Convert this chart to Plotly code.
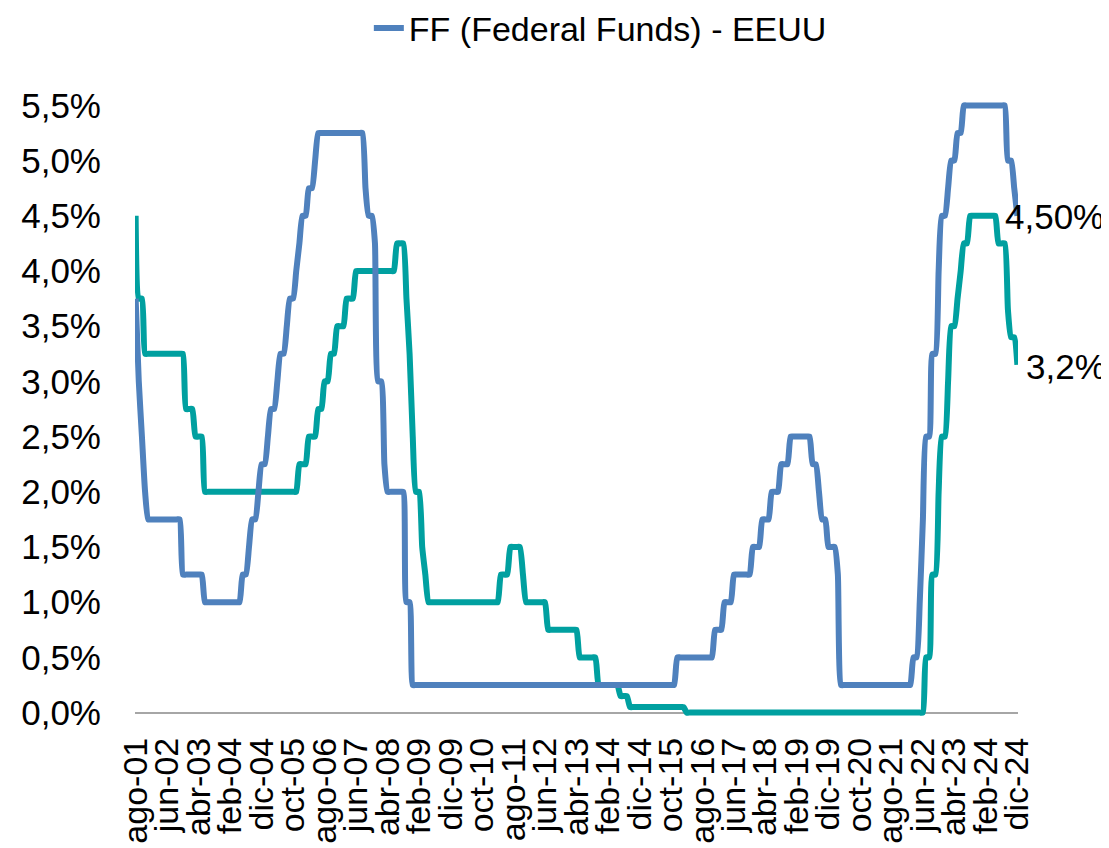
import plotly.graph_objects as go

# Monthly data, ago-2001 .. dic-2024 (281 months)
month_abbr = ["ene", "feb", "mar", "abr", "may", "jun", "jul", "ago", "sep", "oct", "nov", "dic"]

ff_usa = [
    3.75, 3.00, 2.50, 2.00, 1.75,                                          # 2001 ago-dic
    1.75, 1.75, 1.75, 1.75, 1.75, 1.75, 1.75, 1.75, 1.75, 1.75, 1.25, 1.25,  # 2002
    1.25, 1.25, 1.25, 1.25, 1.25, 1.00, 1.00, 1.00, 1.00, 1.00, 1.00, 1.00,  # 2003
    1.00, 1.00, 1.00, 1.00, 1.00, 1.25, 1.25, 1.50, 1.75, 1.75, 2.00, 2.25,  # 2004
    2.25, 2.50, 2.75, 2.75, 3.00, 3.25, 3.25, 3.50, 3.75, 3.75, 4.00, 4.25,  # 2005
    4.50, 4.50, 4.75, 4.75, 5.00, 5.25, 5.25, 5.25, 5.25, 5.25, 5.25, 5.25,  # 2006
    5.25, 5.25, 5.25, 5.25, 5.25, 5.25, 5.25, 5.25, 4.75, 4.50, 4.50, 4.25,  # 2007
    3.00, 3.00, 2.25, 2.00, 2.00, 2.00, 2.00, 2.00, 2.00, 1.00, 1.00, 0.25,  # 2008
    0.25, 0.25, 0.25, 0.25, 0.25, 0.25, 0.25, 0.25, 0.25, 0.25, 0.25, 0.25,  # 2009
    0.25, 0.25, 0.25, 0.25, 0.25, 0.25, 0.25, 0.25, 0.25, 0.25, 0.25, 0.25,  # 2010
    0.25, 0.25, 0.25, 0.25, 0.25, 0.25, 0.25, 0.25, 0.25, 0.25, 0.25, 0.25,  # 2011
    0.25, 0.25, 0.25, 0.25, 0.25, 0.25, 0.25, 0.25, 0.25, 0.25, 0.25, 0.25,  # 2012
    0.25, 0.25, 0.25, 0.25, 0.25, 0.25, 0.25, 0.25, 0.25, 0.25, 0.25, 0.25,  # 2013
    0.25, 0.25, 0.25, 0.25, 0.25, 0.25, 0.25, 0.25, 0.25, 0.25, 0.25, 0.25,  # 2014
    0.25, 0.25, 0.25, 0.25, 0.25, 0.25, 0.25, 0.25, 0.25, 0.25, 0.25, 0.50,  # 2015
    0.50, 0.50, 0.50, 0.50, 0.50, 0.50, 0.50, 0.50, 0.50, 0.50, 0.50, 0.75,  # 2016
    0.75, 0.75, 1.00, 1.00, 1.00, 1.25, 1.25, 1.25, 1.25, 1.25, 1.25, 1.50,  # 2017
    1.50, 1.50, 1.75, 1.75, 1.75, 2.00, 2.00, 2.00, 2.25, 2.25, 2.25, 2.50,  # 2018
    2.50, 2.50, 2.50, 2.50, 2.50, 2.50, 2.25, 2.25, 2.00, 1.75, 1.75, 1.50,  # 2019
    1.50, 1.50, 1.25, 0.25, 0.25, 0.25, 0.25, 0.25, 0.25, 0.25, 0.25, 0.25,  # 2020
    0.25, 0.25, 0.25, 0.25, 0.25, 0.25, 0.25, 0.25, 0.25, 0.25, 0.25, 0.25,  # 2021
    0.25, 0.25, 0.50, 0.50, 1.00, 1.75, 2.50, 2.50, 3.25, 3.25, 4.00, 4.50,  # 2022
    4.50, 4.75, 5.00, 5.00, 5.25, 5.25, 5.50, 5.50, 5.50, 5.50, 5.50, 5.50,  # 2023
    5.50, 5.50, 5.50, 5.50, 5.50, 5.50, 5.50, 5.50, 5.00, 5.00, 4.75, 4.50,  # 2024
]

ecb_refi = [
    4.50, 3.75, 3.75, 3.25, 3.25,                                          # 2001 ago-dic
    3.25, 3.25, 3.25, 3.25, 3.25, 3.25, 3.25, 3.25, 3.25, 3.25, 3.25, 2.75,  # 2002
    2.75, 2.75, 2.50, 2.50, 2.50, 2.00, 2.00, 2.00, 2.00, 2.00, 2.00, 2.00,  # 2003
    2.00, 2.00, 2.00, 2.00, 2.00, 2.00, 2.00, 2.00, 2.00, 2.00, 2.00, 2.00,  # 2004
    2.00, 2.00, 2.00, 2.00, 2.00, 2.00, 2.00, 2.00, 2.00, 2.00, 2.00, 2.25,  # 2005
    2.25, 2.25, 2.50, 2.50, 2.50, 2.75, 2.75, 3.00, 3.00, 3.25, 3.25, 3.50,  # 2006
    3.50, 3.50, 3.75, 3.75, 3.75, 4.00, 4.00, 4.00, 4.00, 4.00, 4.00, 4.00,  # 2007
    4.00, 4.00, 4.00, 4.00, 4.00, 4.00, 4.25, 4.25, 4.25, 3.75, 3.25, 2.50,  # 2008
    2.00, 2.00, 1.50, 1.25, 1.00, 1.00, 1.00, 1.00, 1.00, 1.00, 1.00, 1.00,  # 2009
    1.00, 1.00, 1.00, 1.00, 1.00, 1.00, 1.00, 1.00, 1.00, 1.00, 1.00, 1.00,  # 2010
    1.00, 1.00, 1.00, 1.25, 1.25, 1.25, 1.50, 1.50, 1.50, 1.50, 1.25, 1.00,  # 2011
    1.00, 1.00, 1.00, 1.00, 1.00, 1.00, 0.75, 0.75, 0.75, 0.75, 0.75, 0.75,  # 2012
    0.75, 0.75, 0.75, 0.75, 0.50, 0.50, 0.50, 0.50, 0.50, 0.50, 0.25, 0.25,  # 2013
    0.25, 0.25, 0.25, 0.25, 0.25, 0.15, 0.15, 0.15, 0.05, 0.05, 0.05, 0.05,  # 2014
    0.05, 0.05, 0.05, 0.05, 0.05, 0.05, 0.05, 0.05, 0.05, 0.05, 0.05, 0.05,  # 2015
    0.05, 0.05, 0.00, 0.00, 0.00, 0.00, 0.00, 0.00, 0.00, 0.00, 0.00, 0.00,  # 2016
    0.00, 0.00, 0.00, 0.00, 0.00, 0.00, 0.00, 0.00, 0.00, 0.00, 0.00, 0.00,  # 2017
    0.00, 0.00, 0.00, 0.00, 0.00, 0.00, 0.00, 0.00, 0.00, 0.00, 0.00, 0.00,  # 2018
    0.00, 0.00, 0.00, 0.00, 0.00, 0.00, 0.00, 0.00, 0.00, 0.00, 0.00, 0.00,  # 2019
    0.00, 0.00, 0.00, 0.00, 0.00, 0.00, 0.00, 0.00, 0.00, 0.00, 0.00, 0.00,  # 2020
    0.00, 0.00, 0.00, 0.00, 0.00, 0.00, 0.00, 0.00, 0.00, 0.00, 0.00, 0.00,  # 2021
    0.00, 0.00, 0.00, 0.00, 0.00, 0.00, 0.50, 0.50, 1.25, 1.25, 2.00, 2.50,  # 2022
    2.50, 3.00, 3.50, 3.50, 3.75, 4.00, 4.25, 4.25, 4.50, 4.50, 4.50, 4.50,  # 2023
    4.50, 4.50, 4.50, 4.50, 4.50, 4.25, 4.25, 4.25, 3.65, 3.40, 3.40, 3.15,  # 2024
]

# month labels "ago-01" ... "dic-24"
months = []
for yr in range(2001, 2025):
    for m in range(12):
        if yr == 2001 and m < 7:
            continue
        months.append(f"{month_abbr[m]}-{yr % 100:02d}")

tick_step = 10
y_ticks = [0.0, 0.5, 1.0, 1.5, 2.0, 2.5, 3.0, 3.5, 4.0, 4.5, 5.0, 5.5]
y_ticktext = [f"{v:.1f}%".replace(".", ",") for v in y_ticks]
end_labels = ["4,50%", "3,2%"]

series_names = ["FF (Federal Funds) - EEUU", "Tasa BCE"]
colors = ["#4F81BD", "#00A0A0"]

FONT = "Liberation Sans, Arial, sans-serif"

x_idx = list(range(len(months)))

fig = go.Figure()
fig.add_trace(go.Scatter(
    x=x_idx, y=ecb_refi, mode="lines", name=series_names[1], showlegend=False,
    line=dict(color=colors[1], width=6, shape="spline", smoothing=0.5),
    hoverinfo="skip",
))
fig.add_trace(go.Scatter(
    x=x_idx, y=ff_usa, mode="lines", name=series_names[0], showlegend=True,
    line=dict(color=colors[0], width=6, shape="spline", smoothing=0.5),
    hoverinfo="skip",
))

fig.add_annotation(x=x_idx[-1], y=ff_usa[-1], text=end_labels[0], showarrow=False,
                   xanchor="left", yanchor="middle", xshift=-14, yshift=-1,
                   font=dict(family=FONT, size=35, color="#000000"))
fig.add_annotation(x=x_idx[-1], y=ecb_refi[-1], text=end_labels[1], showarrow=False,
                   xanchor="left", yanchor="middle", xshift=7, yshift=-2,
                   font=dict(family=FONT, size=35, color="#000000"))

# page body adds an 8px offset, so the figure is sized 1101x840
fig.update_layout(
    width=1101, height=840,
    margin=dict(l=127, r=91, t=93, b=131, pad=0, autoexpand=False),
    paper_bgcolor="white", plot_bgcolor="white",
    font=dict(family=FONT, size=34, color="#000000"),
    showlegend=True,
    legend=dict(orientation="h", x=0.527, xanchor="center", y=1.118, yanchor="middle",
                font=dict(family=FONT, size=34, color="#000000"),
                bgcolor="rgba(0,0,0,0)"),
    xaxis=dict(
        range=[-0.2, len(months) - 1 + 0.2],
        tickmode="array",
        tickvals=x_idx[::tick_step],
        ticktext=months[::tick_step],
        tickangle=-90, automargin=False,
        ticks="", showgrid=False, zeroline=False, showline=False,
        ticklabelstandoff=13,
        tickfont=dict(family=FONT, size=34, color="#000000"),
    ),
    yaxis=dict(
        range=[-0.04, 5.54], automargin=False,
        tickmode="array",
        tickvals=y_ticks,
        ticktext=y_ticktext,
        ticks="", showgrid=False, showline=False,
        zeroline=True, zerolinecolor="#A6A6A6", zerolinewidth=2,
        ticklabelstandoff=33,
        tickfont=dict(family=FONT, size=35, color="#000000"),
    ),
)

fig.write_html("out.html")
